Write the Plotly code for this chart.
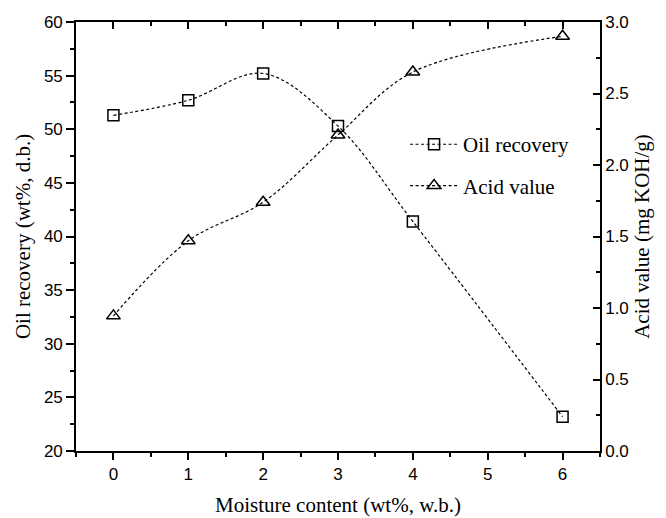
import plotly.graph_objects as go

# Moisture content of the feed (wt%, w.b.)
moisture = [0, 1, 2, 3, 4, 6]
# Oil recovery (wt%, d.b.) – left axis
oil_recovery = [51.3, 52.7, 55.2, 50.3, 41.4, 23.2]
# Acid value of the oil (mg KOH/g) – right axis
acid_value = [0.945, 1.47, 1.74, 2.21, 2.65, 2.90]

x_ticks = [0, 1, 2, 3, 4, 5, 6]

TICK_FONT = dict(family="Liberation Sans, Arial, sans-serif", size=17, color="black")
TITLE_FONT = dict(family="Liberation Serif, Times New Roman, serif", size=21, color="black")
LINE = dict(color="black", width=1.2, dash="3px,2.5px", shape="spline", smoothing=1.0)

fig = go.Figure()

fig.add_trace(go.Scatter(
    x=moisture, y=oil_recovery, name="Oil recovery",
    mode="lines+markers", line=LINE,
    marker=dict(symbol="square-open", size=11, color="black", line=dict(width=1.5)),
    xaxis="x", yaxis="y", legendgroup="oil",
))

fig.add_trace(go.Scatter(
    x=moisture, y=acid_value, name="Acid value",
    mode="lines+markers", line=LINE,
    marker=dict(symbol="triangle-up-open", size=12, color="black", line=dict(width=1.5)),
    xaxis="x2", yaxis="y2", legendgroup="acid",
))

x_common = dict(range=[-0.5, 6.5], tickvals=x_ticks, showline=True, linecolor="black",
                linewidth=1.6, showgrid=False, zeroline=False, tickcolor="black",
                tickwidth=1.6, automargin=False)

fig.update_layout(
    width=666, height=518,
    margin=dict(l=76, r=66, t=22, b=67),
    paper_bgcolor="white", plot_bgcolor="white",
    showlegend=True,
    legend=dict(
        x=0.628, y=0.762, xanchor="left", yanchor="top",
        bgcolor="rgba(0,0,0,0)", borderwidth=0,
        font=dict(family="Liberation Serif, Times New Roman, serif", size=21, color="black"),
        tracegroupgap=11, itemwidth=48,
    ),
    xaxis=dict(
        **x_common,
        ticks="outside", ticklen=7, tickfont=TICK_FONT,
        minor=dict(dtick=0.5, tick0=0.5, ticks="outside", ticklen=4, tickcolor="black", tickwidth=1.6),
        title=dict(text="Moisture content (wt%, w.b.)", font=TITLE_FONT, standoff=14),
    ),
    xaxis2=dict(
        **x_common,
        overlaying="x", side="top", anchor="y",
        ticks="inside", ticklen=7, showticklabels=False,
        minor=dict(dtick=0.5, tick0=0.5, ticks="inside", ticklen=4, tickcolor="black", tickwidth=1.6),
    ),
    yaxis=dict(
        range=[20, 60], dtick=5, tick0=20, automargin=False,
        showline=True, linecolor="black", linewidth=1.6, showgrid=False, zeroline=False,
        ticks="outside", ticklen=8, tickwidth=1.6, tickcolor="black", tickfont=TICK_FONT,
        minor=dict(dtick=2.5, tick0=20, ticks="outside", ticklen=4, tickcolor="black", tickwidth=1.6),
        title=dict(text="Oil recovery (wt%, d.b.)", font=TITLE_FONT, standoff=8),
    ),
    yaxis2=dict(
        range=[0, 3], dtick=0.5, tick0=0, tickformat=".1f", automargin=False,
        overlaying="y", side="right", anchor="x2",
        showline=True, linecolor="black", linewidth=1.6, showgrid=False, zeroline=False,
        ticks="inside", ticklen=7, tickwidth=1.6, tickcolor="black", tickfont=TICK_FONT,
        minor=dict(dtick=0.25, tick0=0, ticks="inside", ticklen=4, tickcolor="black", tickwidth=1.6),
        title=dict(text="Acid value (mg KOH/g)", font=TITLE_FONT, standoff=6),
    ),
)

fig.write_html("out.html")
